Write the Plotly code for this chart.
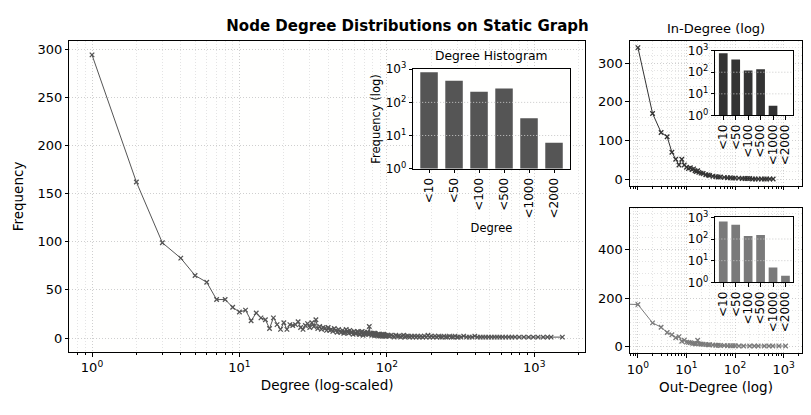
import math
import plotly.graph_objects as go

# ---------------- data ----------------
main_deg = [1, 2, 3, 4, 5, 6, 7, 8, 9, 10, 11, 12, 13, 14, 15, 16, 17, 18, 19, 20,
            21, 22, 23, 24, 25, 26, 27, 28, 29, 30, 31, 32, 33, 34, 35, 36, 37, 38, 39, 40,
            41, 42, 43, 44, 45, 46, 47, 48, 49, 50, 51, 52, 53, 54, 55, 56, 57, 58, 59, 60,
            61, 62, 63, 64, 65, 66, 67, 68, 69, 70, 71, 72, 73, 74, 75, 76, 77, 78, 79, 80,
            81, 82, 83, 84, 85, 86, 87, 88, 89, 90, 91, 92, 93, 94, 95, 96, 97, 98, 99, 100,
            102, 104, 107, 110, 112, 115, 118, 121, 124, 127, 130, 133, 136, 140, 143, 147,
            150, 154, 158, 162, 166, 170, 175, 180, 185, 190, 195, 200, 206, 212, 218, 224,
            230, 237, 244, 251, 258, 266, 274, 282, 290, 299, 305, 318, 332, 347, 362, 378,
            395, 412, 430, 449, 469, 490, 512, 535, 559, 584, 610, 640, 672, 705, 740, 790,
            850, 915, 985, 1060, 1150, 1230, 1300, 1550]
main_freq = [294, 162, 99, 83, 65, 58, 40, 40, 32, 27, 29, 18, 26, 21, 19, 10, 21, 14, 9, 16,
             9, 14, 13, 14, 17, 11, 9, 13, 15, 11, 16, 12, 19, 10, 12, 9, 11, 10, 8, 11,
             8, 9, 7, 10, 8, 6, 9, 7, 6, 8, 5, 6, 9, 7, 5, 8, 6, 6, 4, 7,
             5, 5, 7, 6, 4, 4, 6, 7, 3, 5, 6, 4, 5, 6, 4, 12, 5, 5, 3, 4,
             5, 3, 5, 4, 3, 3, 4, 2, 4, 3, 2, 3, 4, 2, 4, 3, 2, 2, 3, 2,
             3, 2, 3, 2, 1, 3, 2, 2, 1, 2, 3, 1, 2, 2, 1, 2,
             1, 2, 1, 2, 1, 2, 1, 2, 1, 3, 1, 2, 1, 2, 1, 2,
             1, 1, 2, 1, 1, 2, 1, 1, 2, 1, 1, 1, 2, 1, 1, 1,
             2, 1, 1, 1, 1, 1, 1, 1, 1, 1, 1, 1, 1, 1, 1, 1,
             1, 1, 1, 1, 1, 1, 1, 1]

in_deg = [1, 2, 3, 4, 5, 6, 7, 8, 9, 10, 11, 12, 13, 14, 15, 16, 17, 18, 20, 22, 25, 28,
          30, 35, 40, 45, 50, 60, 70, 80, 90, 100, 120, 140, 160, 180, 200, 230, 260, 300,
          350, 400, 450, 520, 610]
in_freq = [340, 170, 121, 110, 70, 52, 37, 52, 37, 31, 28, 30, 25, 27, 22, 20, 22, 18, 16,
           15, 12, 11, 10, 8, 7, 6, 6, 5, 4, 4, 3, 3, 3, 2, 2, 2, 2, 1, 1, 1, 1, 1, 1, 1, 1]

out_deg = [0.5, 1, 2, 3, 4, 5, 6, 7, 8, 9, 10, 11, 12, 13, 14, 15, 16, 17, 18, 20, 22, 25,
           28, 30, 35, 40, 45, 50, 60, 70, 80, 90, 100, 120, 150, 200, 250, 300, 400, 500,
           600, 800, 1100]
out_freq = [175, 173, 97, 79, 57, 48, 35, 40, 21, 25, 17, 16, 15, 13, 12, 11, 10, 25, 10, 9,
            8, 7, 6, 6, 5, 4, 4, 3, 3, 2, 2, 2, 2, 1, 1, 1, 1, 1, 1, 1, 1, 1, 1]

bins = ["<10", "<50", "<100", "<500", "<1000", "<2000"]
hist_all = [815, 450, 210, 262, 33, 6]
hist_in = [760, 390, 120, 138, 2.8, 0]
hist_out = [645, 455, 138, 155, 4.8, 2]

decade_vals = [1, 10, 100, 1000]
decade_text = ["10<sup>0</sup>", "10<sup>1</sup>", "10<sup>2</sup>", "10<sup>3</sup>"]
bin_text = [b.replace("<", "&lt;") for b in bins]

# ---------------- layout helpers ----------------
W, H = 811, 415
FONT = "DejaVu Sans"


def px_x(a, b):
    return [a / W, b / W]


def px_y(top, bottom):
    return [1 - bottom / H, 1 - top / H]


minor_log = [m * 10 ** k for k in range(-1, 4) for m in range(2, 10)]
GRID = "#cfcfcf"
MGRID = "#e4e4e4"
DOT = "1px,2px"

fig = go.Figure()

MAIN_C, IN_C, OUT_C = "#555555", "#333333", "#7a7a7a"


def line_trace(x, y, color, xa, ya):
    return go.Scatter(x=x, y=y, mode="lines+markers", xaxis=xa, yaxis=ya,
                      line=dict(color=color, width=1),
                      marker=dict(symbol="x-thin", size=4.5,
                                  line=dict(color=color, width=1.3), color=color),
                      showlegend=False, hoverinfo="skip")


def bar_trace(vals, color, xa, ya):
    return go.Bar(x=bins, y=vals, xaxis=xa, yaxis=ya, marker=dict(color=color, line=dict(width=0)),
                  width=0.7, showlegend=False, hoverinfo="skip")


fig.add_trace(line_trace(main_deg, main_freq, MAIN_C, "x", "y"))
fig.add_trace(bar_trace(hist_all, MAIN_C, "x2", "y2"))
fig.add_trace(line_trace(in_deg, in_freq, IN_C, "x3", "y3"))
fig.add_trace(bar_trace(hist_in, IN_C, "x4", "y4"))
fig.add_trace(line_trace(out_deg, out_freq, OUT_C, "x5", "y5"))
fig.add_trace(bar_trace(hist_out, OUT_C, "x6", "y6"))

axis_common = dict(showline=True, mirror=True, linecolor="black", linewidth=1,
                   ticks="outside", tickcolor="black", ticklen=3.5, tickwidth=1,
                   zeroline=False, tickfont=dict(family=FONT, size=13, color="black"))


def log_x(domain, rng, labels=True, title=None, anchor=None):
    d = dict(axis_common, type="log", domain=domain, range=rng, anchor=anchor,
             tickmode="array", tickvals=decade_vals, ticktext=decade_text,
             showticklabels=labels, showgrid=True, gridcolor=GRID, griddash=DOT, gridwidth=1,
             minor=dict(tickmode="array", tickvals=minor_log, ticks="outside", ticklen=2,
                        tickcolor="black", showgrid=True, gridcolor=MGRID, griddash=DOT))
    if title:
        d["title"] = dict(text=title, font=dict(family=FONT, size=13.5, color="black"), standoff=6)
    return d


def inset_axes(domx, domy, anchor_x, anchor_y, tick_size, xtitle=None, ytitle=None):
    xa = dict(axis_common, type="category", domain=domx, anchor=anchor_y,
              range=[-0.635, 5.635], tickangle=-90, tickmode="array",
              tickvals=bins, ticktext=bin_text, showgrid=False, ticklen=3.5,
              tickfont=dict(family=FONT, size=tick_size, color="black"))
    ya = dict(axis_common, type="log", domain=domy, anchor=anchor_x, range=[0, 3],
              tickmode="array", tickvals=decade_vals, ticktext=decade_text, showgrid=False,
              tickfont=dict(family=FONT, size=tick_size, color="black"))
    if xtitle:
        xa["title"] = dict(text=xtitle, font=dict(family=FONT, size=11.5, color="black"), standoff=6)
    if ytitle:
        ya["title"] = dict(text=ytitle, font=dict(family=FONT, size=11.5, color="black"), standoff=2)
    return xa, ya


# main axes
fig.update_layout(
    xaxis=log_x(px_x(66.7, 584), [-0.153, 3.343], True, "Degree (log-scaled)", "y"),
    yaxis=dict(axis_common, domain=px_y(33, 357), anchor="x", range=[-14.7, 308.7],
               tick0=0, dtick=50, showgrid=True, gridcolor=GRID, griddash=DOT,
               title=dict(text="Frequency", font=dict(family=FONT, size=13.5, color="black"),
                          standoff=10)),
)

x2, y2 = inset_axes(px_x(411.7, 569), px_y(62.7, 166), "x2", "y2", 12,
                    "Degree", "Frequency (log)")
x4, y4 = inset_axes(px_x(715, 793.3), px_y(43.3, 110.7), "x4", "y4", 12)
x6, y6 = inset_axes(px_x(715, 793.3), px_y(216.7, 284.3), "x6", "y6", 12)

right_x = px_x(629.3, 802)
right_rng = [-0.164, 3.38]
fig.update_layout(
    xaxis2=x2, yaxis2=y2,
    xaxis3=log_x(right_x, right_rng, False, None, "y3"),
    yaxis3=dict(axis_common, domain=px_y(33.3, 184), anchor="x3", range=[-17, 357],
                tick0=0, dtick=100, showgrid=True, gridcolor=GRID, griddash=DOT,
                minor=dict(dtick=20, tick0=0, showgrid=True, gridcolor=MGRID, griddash=DOT)),
    xaxis4=x4, yaxis4=y4,
    xaxis5=log_x(right_x, right_rng, True, "Out-Degree (log)", "y5"),
    yaxis5=dict(axis_common, domain=px_y(207.3, 358.3), anchor="x5", range=[-30, 572],
                tick0=0, dtick=200, showgrid=True, gridcolor=GRID, griddash=DOT,
                minor=dict(dtick=50, tick0=0, showgrid=True, gridcolor=MGRID, griddash=DOT)),
    xaxis6=x6, yaxis6=y6,
)

# dotted gridlines drawn above the bars of the insets (decade lines 10 and 100)
shapes = []
for ax in ["2", "4", "6"]:
    for v in [10, 100]:
        frac = (math.log10(v) - 0) / 3
        shapes.append(dict(type="line", xref=f"x{ax} domain", yref=f"y{ax} domain",
                           x0=0, x1=1, y0=frac, y1=frac, layer="above",
                           line=dict(color="#c8c8c8", width=1, dash=DOT)))

annotations = [
    dict(text="Degree Histogram", x=490.3 / W, y=1 - 49 / H, xref="paper", yref="paper",
         showarrow=False, xanchor="center", yanchor="middle",
         font=dict(family=FONT, size=12.3, color="black")),
    dict(text="In-Degree (log)", x=715.6 / W, y=1 - 20 / H, xref="paper", yref="paper",
         showarrow=False, xanchor="center", yanchor="middle",
         font=dict(family=FONT, size=13, color="black")),
]

fig.update_layout(
    width=W, height=H, autosize=False,
    margin=dict(l=0, r=0, t=0, b=0),
    paper_bgcolor="#ffffff", plot_bgcolor="#fffffe",
    font=dict(family=FONT, color="black"),
    title=dict(text="Node Degree Distributions on Static Graph", x=406 / W, y=1 - 17 / H,
               xanchor="center", yanchor="middle", xref="paper", yref="paper",
               font=dict(family=FONT, size=15, color="black", weight="bold")),
    bargap=0.3,
    shapes=shapes,
    annotations=annotations,
)

fig.write_html("out.html")
